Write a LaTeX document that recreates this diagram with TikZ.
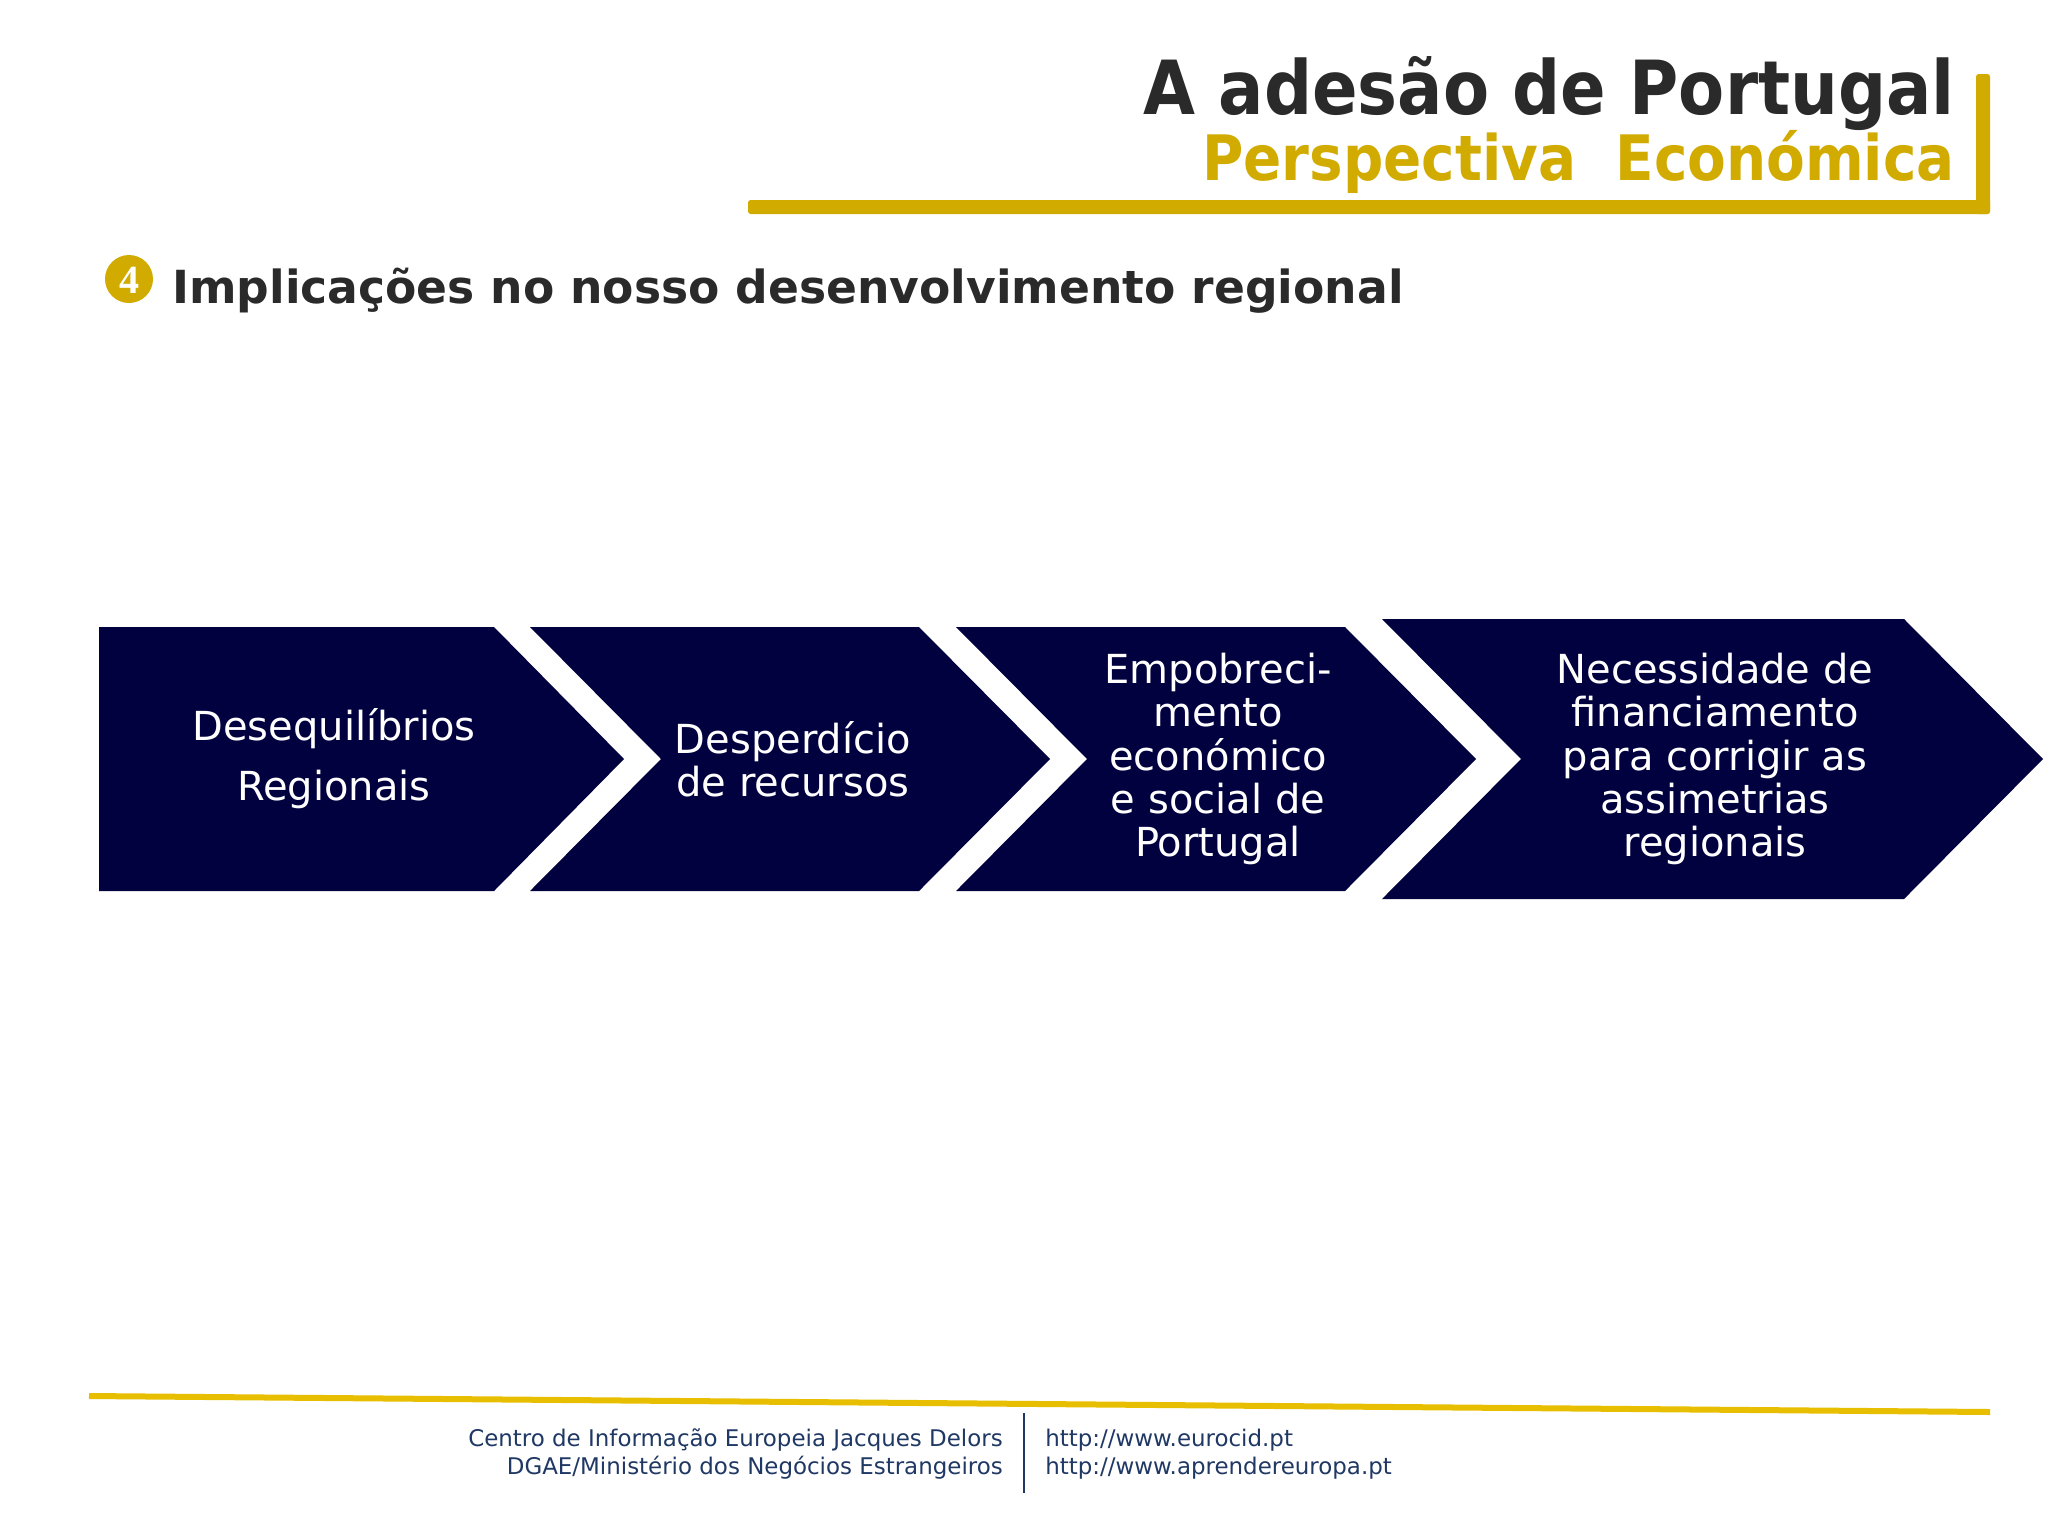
\documentclass[tikz,border=0pt]{standalone}
\usepackage{fontspec}
\setmainfont{DejaVu Sans}
\newfontfamily\titlefont[FakeStretch=0.9]{DejaVu Sans}
\newfontfamily\numfont{Liberation Serif}
\definecolor{navy}{HTML}{01013F}
\definecolor{gold}{HTML}{D2AB00}
\definecolor{footgold}{HTML}{E8BF00}
\definecolor{ink}{HTML}{2A2A2A}
\definecolor{footblue}{HTML}{1F3864}
\begin{document}
\begin{tikzpicture}[x=0.75pt, y=-0.75pt, line join=round,
	chevtext/.style={text=white, align=center, font=\fontsize{30}{32.5}\selectfont},
	foot/.style={text=footblue, inner sep=0pt, font=\fontsize{17.2}{20}\selectfont}]
			\useasboundingbox (0,0) rectangle (2048,1536);
			\fill[white] (0,0) rectangle (2048,1536);
			
			% header
			\node[anchor=base east, inner sep=0pt, text=ink, font=\titlefont\bfseries\fontsize{56}{60}\selectfont] (title) at (1955,114) {A adesão de Portugal};
			\node[anchor=base east, inner sep=0pt, text=gold, font=\titlefont\bfseries\fontsize{47}{50}\selectfont] (subtitle) at (1955,180) {Perspectiva\ \ Económica};
			\fill[gold, rounded corners=2pt] (1976,74) rectangle (1990,214);
			\fill[gold, rounded corners=2pt] (748,200) rectangle (1990,214);
			
			\fill[gold] (129,279) circle (24);
			\node[text=white, font=\numfont\bfseries\fontsize{30}{30}\selectfont] (num) at (129,280) {4};
			\node[anchor=base west, inner sep=0pt, text=ink, font=\bfseries\fontsize{34.2}{40}\selectfont] (head) at (172,303) {Implicações no nosso desenvolvimento regional};
			
			% chevrons
			\foreach \l/\r/\t/\b/\d/\p in {99/494/627/891/0/130, 530/919/627/891/131/131, 956/1345/627/891/131/131, 1382/1904/619/899/139/139} {
				\fill[navy] (\l,\t) -- (\r,\t) -- (\r+\p,759) -- (\r,\b) -- (\l,\b) -- (\l+\d,759) -- cycle;
			}
			\node[chevtext, font=\fontsize{30}{45}\selectfont] (c1) at (334,759) {Desequilíbrios\\Regionais};
			\node[chevtext] (c2) at (793,759) {Desperdício\\de recursos};
			\node[chevtext] (c3) at (1218,759) {Empobreci-\\mento\\económico\\e social de\\Portugal};
			\node[chevtext] (c4) at (1715,759) {Necessidade de\\financiamento\\para corrigir as\\assimetrias\\regionais};
			
			% footer
			\draw[footgold, line width=4.5pt] (89,1396) -- (1990,1412);
			\draw[footblue, line width=1.8pt] (1024,1413) -- (1024,1493);
			\node[foot, anchor=base east] (f1) at (1003,1446) {Centro de Informação Europeia Jacques Delors};
			\node[foot, anchor=base east] (f2) at (1003,1474) {DGAE/Ministério dos Negócios Estrangeiros};
			\node[foot, anchor=base west] (u1) at (1045,1446) {http://www.eurocid.pt};
			\node[foot, anchor=base west] (u2) at (1045,1474) {http://www.aprendereuropa.pt};
			
		\end{tikzpicture}
\end{document}
